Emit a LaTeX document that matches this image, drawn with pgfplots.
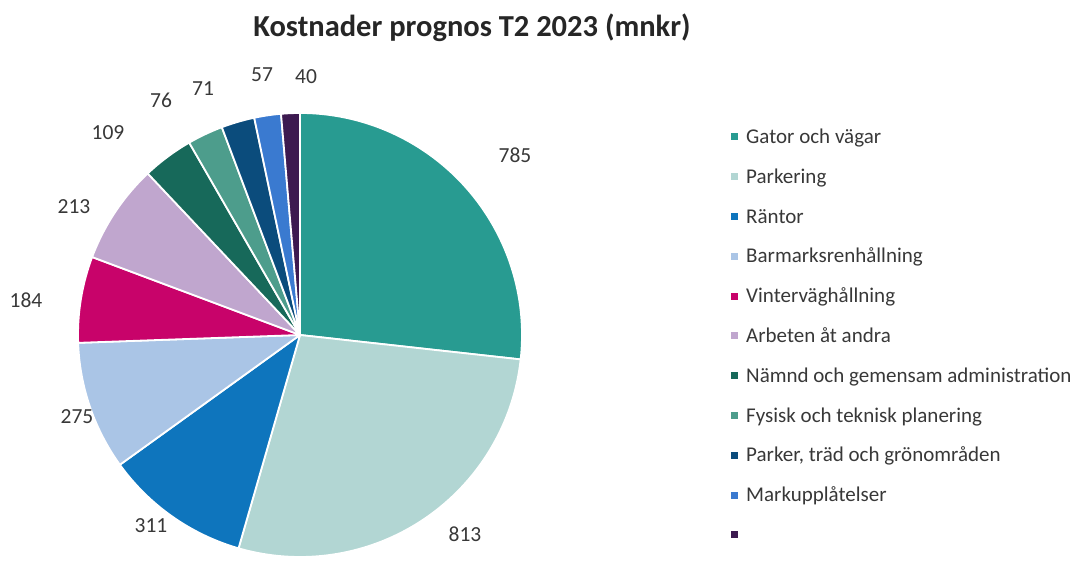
\documentclass[border=0pt]{standalone}
\usepackage{pgfplots}
\pgfplotsset{compat=1.18}
\usepackage{pgfplotstable}
\usepackage{fontspec}
\setmainfont{Carlito}

% slice colours, in table order
\definecolor{c0}{HTML}{289B91}
\definecolor{c1}{HTML}{B2D6D3}
\definecolor{c2}{HTML}{0E75BD}
\definecolor{c3}{HTML}{AAC5E6}
\definecolor{c4}{HTML}{C8036A}
\definecolor{c5}{HTML}{C0A6CE}
\definecolor{c6}{HTML}{17695A}
\definecolor{c7}{HTML}{4D9D8C}
\definecolor{c8}{HTML}{0B4C7C}
\definecolor{c9}{HTML}{3A7AD0}
\definecolor{c10}{HTML}{3D1A50}
\definecolor{textgray}{HTML}{383838}

% cost per post (mnkr) and where its value label sits
\pgfplotstableread[col sep=semicolon]{
value;lx;ly;name
785;515;400;Gator och vägar
813;465;21;Parkering
311;151;29;Räntor
275;77;138;Barmarksrenhållning
184;26;255;Vinterväghållning
213;74;348;Arbeten åt andra
109;108;422;Nämnd och gemensam administration
76;161;455;Fysisk och teknisk planering
71;203;466;Parker, träd och grönområden
57;262;480;Markupplåtelser
40;306;478;{}
}\costs

\pgfplotstablegetrowsof{\costs}
\pgfmathtruncatemacro\nlast{\pgfplotsretval-1}

% total of all posts
\def\total{0}
\pgfplotsforeachungrouped \i in {0,...,\nlast}{%
  \pgfplotstablegetelem{\i}{value}\of\costs
  \pgfmathsetmacro\total{\total+\pgfplotsretval}%
}

% start/end angle of each slice, clockwise from 12 o'clock
\def\cum{0}
\pgfplotsforeachungrouped \i in {0,...,\nlast}{%
  \pgfplotstablegetelem{\i}{value}\of\costs
  \let\val\pgfplotsretval
  \pgfmathsetmacro\sa{90-360*(\cum/\total)}%
  \pgfmathsetmacro\cum{\cum+\val}%
  \pgfmathsetmacro\ea{90-360*(\cum/\total)}%
  \expandafter\xdef\csname sa\i\endcsname{\sa}%
  \expandafter\xdef\csname ea\i\endcsname{\ea}%
  \expandafter\xdef\csname val\i\endcsname{\val}%
  \pgfplotstablegetelem{\i}{lx}\of\costs
  \expandafter\xdef\csname lx\i\endcsname{\pgfplotsretval}%
  \pgfplotstablegetelem{\i}{ly}\of\costs
  \expandafter\xdef\csname ly\i\endcsname{\pgfplotsretval}%
  \pgfplotstablegetelem{\i}{name}\of\costs
  \global\expandafter\let\csname nm\i\endcsname\pgfplotsretval
  \pgfmathsetmacro\rowb{418-39.8*\i-3.5}%
  \expandafter\xdef\csname gb\i\endcsname{\rowb}%
  \pgfmathsetmacro\rowt{418-39.8*\i+3.5}%
  \expandafter\xdef\csname gt\i\endcsname{\rowt}%
  \pgfmathsetmacro\rowl{418-39.8*\i-6.5}%
  \expandafter\xdef\csname gl\i\endcsname{\rowl}%
}

\begin{document}
\begin{tikzpicture}
\begin{axis}[
  x=1pt, y=1pt,
  xmin=0, xmax=1078, ymin=0, ymax=555,
  scale only axis, hide axis, clip=false,
]
\path (axis cs:0,0) rectangle (axis cs:1078,555);
\pgfplotsinvokeforeach{0,...,\nlast}{
  \filldraw[fill=c#1, draw=white, line width=1.8pt, line join=round]
    (axis cs:300,220) -- ++(\csname sa#1\endcsname:222pt)
    arc[start angle=\csname sa#1\endcsname, end angle=\csname ea#1\endcsname, radius=222pt]
    -- cycle;
  \node[text=textgray, font=\fontsize{21.5}{25}\selectfont]
    at (axis cs:\csname lx#1\endcsname,\csname ly#1\endcsname) {\csname val#1\endcsname};
  \fill[c#1] (axis cs:731,\csname gb#1\endcsname) rectangle (axis cs:738,\csname gt#1\endcsname);
  \node[anchor=base west, inner sep=0pt, text=textgray, font=\fontsize{21}{25}\selectfont]
    at (axis cs:746,\csname gl#1\endcsname) {\csname nm#1\endcsname};
}
\node[text=black!85, font=\bfseries\fontsize{30.5}{36}\selectfont]
  at (axis cs:472,527) {Kostnader prognos T2 2023 (mnkr)};
\end{axis}
\end{tikzpicture}
\end{document}
